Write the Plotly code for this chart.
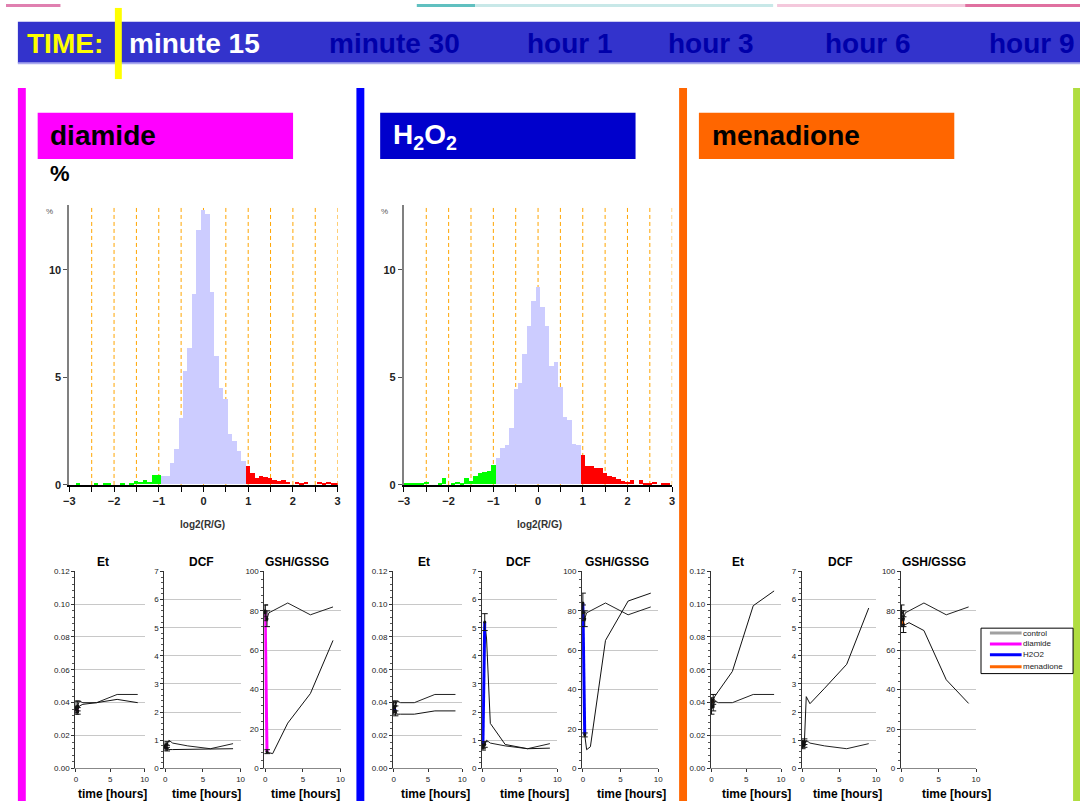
import plotly.graph_objects as go

W, H = 1085, 807

# ---------------- data ----------------
bin_centers = [-3.0, -2.9, -2.8, -2.7, -2.6, -2.5, -2.4, -2.3, -2.2, -2.1,
               -2.0, -1.9, -1.8, -1.7, -1.6, -1.5, -1.4, -1.3, -1.2, -1.1,
               -1.0, -0.9, -0.8, -0.7, -0.6, -0.5, -0.4, -0.3, -0.2, -0.1,
               0.0, 0.1, 0.2, 0.3, 0.4, 0.5, 0.6, 0.7, 0.8, 0.9,
               1.0, 1.1, 1.2, 1.3, 1.4, 1.5, 1.6, 1.7, 1.8, 1.9,
               2.0, 2.1, 2.2, 2.3, 2.4, 2.5, 2.6, 2.7, 2.8, 2.9, 3.0]
diamide_pct = [0, 0, 0.05, 0, 0, 0, 0.05, 0, 0.05, 0.05,
               0, 0, 0.05, 0, 0.05, 0.15, 0.1, 0.2, 0.12, 0.45,
               0.45, 0.4, 0.4, 0.98, 1.63, 3.08, 5.27, 6.34, 8.85, 11.83,
               12.75, 12.6, 8.96, 6.0, 4.5, 4.0, 2.34, 2.0, 1.56, 1.1,
               0.84, 0.52, 0.3, 0.41, 0.34, 0.3, 0.2, 0.18, 0.22, 0.12,
               0, 0.1, 0.06, 0.1, 0, 0, 0.1, 0.06, 0.1, 0.06, 0.04]
h2o2_pct = [0.03, 0.03, 0.06, 0.06, 0.06, 0.1, 0, 0, 0.06, 0.3,
            0, 0.06, 0.1, 0.06, 0.3, 0.17, 0.38, 0.52, 0.56, 0.63,
            0.89, 1.22, 1.71, 1.82, 2.61, 4.46, 4.73, 6.06, 7.39, 8.53,
            9.19, 8.27, 7.39, 5.5, 5.71, 4.53, 3.13, 3.0, 1.89, 1.83,
            1.39, 0.85, 0.85, 0.76, 0.76, 0.53, 0.4, 0.34, 0.27, 0.15,
            0.1, 0.2, 0, 0.2, 0.06, 0.06, 0.1, 0, 0.06, 0.06, 0]
threshold_lines = [-2.5, -2.0, -1.5, -1.0, -0.5, 0.0, 0.5, 1.0, 1.5, 2.0, 2.5, 3.0]

time_labels = ["minute 15", "minute 30", "hour 1", "hour 3", "hour 6", "hour 9"]

hours = [0, 0.25, 0.5, 1, 3, 6, 9]
et_control = [0.037, 0.038, 0.041, 0.040, 0.040, 0.045, 0.045]
dcf_control = [0.8, 0.85, 1.0, 0.9, 0.8, 0.7, 0.88]
gsh_control = [79, 76, 79, 80, 84, 78, 82]

et_diamide = [0.036, 0.035, 0.038, 0.039, 0.040, 0.042, 0.040]
dcf_diamide = [0.75, 0.72, 0.67, 0.67, 0.68, 0.70, 0.70]
gsh_diamide = [80, 8.5, 8, 7.5, 23, 38, 65]

et_h2o2 = [0.037, 0.035, 0.033, 0.033, 0.033, 0.035, 0.035]
dcf_h2o2 = [0.75, 5.2, 4.6, 1.6, 0.85, 0.70, 0.72]
gsh_h2o2 = [84, 17, 9.5, 11, 65, 85, 89]

et_menadione = [0.040, 0.042, 0.044, 0.047, 0.059, 0.099, 0.108]
dcf_menadione = [0.9, 0.95, 2.55, 2.3, 2.85, 3.7, 5.7]
gsh_menadione = [76, 73, 73, 74, 70, 45, 33]

# error bars at the first two time points (up to "minute 15")
et_err_control = [0.004, 0.003]
dcf_err_control = [0.1, 0.1]
gsh_err_control = [4, 4]
et_err_diamide = [0.002, 0.002]
dcf_err_diamide = [0.1, 0.1]
gsh_err_diamide = [3, 1]
et_err_h2o2 = [0.003, 0.003]
dcf_err_h2o2 = [0.1, 0.3]
gsh_err_h2o2 = [5, 1]
et_err_menadione = [0.003, 0.003]
dcf_err_menadione = [0.1, 0.1]
gsh_err_menadione = [4, 4]

legend_names = ["control", "diamide", "H2O2", "menadione"]

# ---------------- styling ----------------
FONT = "Liberation Sans, Arial, Helvetica, sans-serif"
C_DIAMIDE = "#FF00FF"
C_H2O2 = "#0000FF"
C_MEN = "#FF6600"
C_CONTROL = "#A0A0A0"


def fx(px):
    return px / W


def fy(py):
    return 1 - py / H


fig = go.Figure()
layout_axes = {}


def make_axes(idx, xpx, ypx, xcfg, ycfg):
    xn = "xaxis" if idx == 1 else f"xaxis{idx}"
    yn = "yaxis" if idx == 1 else f"yaxis{idx}"
    xr = "x" if idx == 1 else f"x{idx}"
    yr = "y" if idx == 1 else f"y{idx}"
    layout_axes[xn] = dict(domain=[fx(xpx[0]), fx(xpx[1])], anchor=yr, **xcfg)
    layout_axes[yn] = dict(domain=[fy(ypx[1]), fy(ypx[0])], anchor=xr, **ycfg)
    return xr, yr


shapes = []
annotations = []


def rect(x0, y0, x1, y1, color, line=None, layer="above"):
    shapes.append(dict(type="rect", xref="paper", yref="paper",
                       x0=fx(x0), x1=fx(x1), y0=fy(y1), y1=fy(y0),
                       fillcolor=color, line=line or dict(width=0), layer=layer))


def text(x, y, s, size, color="black", xanchor="left", yanchor="middle", bold=True):
    annotations.append(dict(xref="paper", yref="paper", x=fx(x), y=fy(y),
                            text=f"<b>{s}</b>" if bold else s, showarrow=False,
                            xanchor=xanchor, yanchor=yanchor,
                            font=dict(family=FONT, size=size, color=color)))


# ---------------- histograms ----------------
def bar_colors(xs):
    out = []
    for v in xs:
        if v <= -0.999:
            out.append("#00FF00")
        elif v >= 0.999:
            out.append("#FF0000")
        else:
            out.append("#CCCCFF")
    return out


hist_x_common = dict(range=[-3, 3], dtick=1, tick0=0,
                     ticks="outside", ticklen=5, tickcolor="black", tickwidth=1,
                     minor=dict(dtick=0.5, ticks="outside", ticklen=5, tickcolor="black", showgrid=False),
                     showline=True, linecolor="black", linewidth=1.5,
                     showgrid=False, zeroline=False,
                     tickfont=dict(family=FONT, size=11, color="#222", weight="bold"))
hist_y_common = dict(range=[0, 13], tickvals=[0, 5, 10],
                     ticks="outside", ticklen=4, tickcolor="#555",
                     showline=True, linecolor="#808080", linewidth=2,
                     showgrid=False, zeroline=False,
                     tickfont=dict(family=FONT, size=11, color="#222", weight="bold"))

for idx, vals, xpx, label_x in [(1, diamide_pct, (64, 335), 199), (2, h2o2_pct, (402, 673), 539)]:
    xr, yr = make_axes(idx, xpx, (204, 487), hist_x_common, hist_y_common)
    fig.add_trace(go.Bar(x=bin_centers, y=vals, width=0.1,
                         marker=dict(color=bar_colors(bin_centers), line=dict(width=0)),
                         xaxis=xr, yaxis=yr, showlegend=False, hoverinfo="skip"))
    for v in threshold_lines:
        shapes.append(dict(type="line", xref=xr, yref=yr, x0=v, x1=v, y0=0, y1=13,
                           line=dict(color="#FFA500", width=1, dash="4px,3px"), layer="below"))
    text(label_x, 527, "log2(R/G)", 10, "#333", xanchor="center")
    text(xpx[0] - 20, 210, "%", 8, "#555", xanchor="center", bold=False)

# ---------------- small time charts ----------------
metric_cfg = [
    dict(title="Et", range=[0, 0.1202], dtick=0.02, fmt=".2f", minor=0.004),
    dict(title="DCF", range=[0, 7.02], dtick=1, fmt="d", minor=0.2),
    dict(title="GSH/GSSG", range=[0, 100.3], dtick=20, fmt="d", minor=4),
]
controls = [et_control, dcf_control, gsh_control]
control_errs = [et_err_control, dcf_err_control, gsh_err_control]

groups = [
    (C_DIAMIDE, [et_diamide, dcf_diamide, gsh_diamide],
     [et_err_diamide, dcf_err_diamide, gsh_err_diamide],
     [(70, 140), (160, 237), (261, 338)], [98, 198, 294], [108, 203, 303]),
    (C_H2O2, [et_h2o2, dcf_h2o2, gsh_h2o2],
     [et_err_h2o2, dcf_err_h2o2, gsh_err_h2o2],
     [(391, 461), (481, 557), (582, 659)], [422, 518, 617], [434, 534, 632]),
    (C_MEN, [et_menadione, dcf_menadione, gsh_menadione],
     [et_err_menadione, dcf_err_menadione, gsh_err_menadione],
     [(712, 783), (804, 879), (904, 980)], [740, 843, 938], [758, 850, 960]),
]

idx = 3
for color, series, errs, xpxs, title_xs, tlab_xs in groups:
    for m in range(3):
        cfg = metric_cfg[m]
        xcfg = dict(range=[-0.1, 10], tickvals=[0, 5, 10], ticks="outside", ticklen=3,
                    tickcolor="#333", showline=True, linecolor="#888", linewidth=1,
                    showgrid=False, zeroline=False,
                    tickfont=dict(family=FONT, size=8, color="#222"))
        ycfg = dict(range=cfg["range"], dtick=cfg["dtick"], tick0=0, tickformat=cfg["fmt"],
                    ticks="outside", ticklen=3, tickcolor="#333",
                    showline=True, linecolor="#333", linewidth=1,
                    showgrid=True, gridcolor="#C8C8C8", gridwidth=1, zeroline=False,
                    minor=dict(dtick=cfg["minor"], ticks="outside", ticklen=2,
                               tickcolor="#555", showgrid=False),
                    tickfont=dict(family=FONT, size=8, color="#222"))
        xr, yr = make_axes(idx, xpxs[m], (574, 774), xcfg, ycfg)
        ctrl = controls[m]
        trt = series[m]
        fig.add_trace(go.Scatter(x=hours, y=ctrl, mode="lines", line=dict(color="#222", width=1),
                                 xaxis=xr, yaxis=yr, showlegend=False, hoverinfo="skip"))
        fig.add_trace(go.Scatter(x=hours, y=trt, mode="lines", line=dict(color="#111", width=1),
                                 xaxis=xr, yaxis=yr, showlegend=False, hoverinfo="skip"))
        fig.add_trace(go.Scatter(x=hours[:2], y=trt[:2], mode="lines", line=dict(color=color, width=3),
                                 xaxis=xr, yaxis=yr, showlegend=False, hoverinfo="skip"))
        for yy, ee in [(ctrl[:2], control_errs[m]), (trt[:2], errs[m])]:
            fig.add_trace(go.Scatter(x=hours[:2], y=yy, mode="markers",
                                     marker=dict(size=3, color="#111"),
                                     error_y=dict(type="data", array=ee, color="#111",
                                                  thickness=1, width=3),
                                     xaxis=xr, yaxis=yr, showlegend=False, hoverinfo="skip",
                                     cliponaxis=False))
        text(title_xs[m], 565, cfg["title"], 12, "black", xanchor="center")
        text(tlab_xs[m], 800, "time [hours]", 12, "black", xanchor="center")
        idx += 1

# ---------------- decorations ----------------
# faint top strip
rect(0, 0, 55, 3, "#E080B0")
rect(415, 0, 474, 3, "#60C0C0")
rect(474, 0, 775, 3, "#C8E8E8")
rect(779, 0, 969, 3, "#F4C8DC")
rect(969, 0, 1085, 3, "#E070A0")

# time banner
rect(12, 18, 1085, 60, "#3333CC")
rect(12, 59, 1085, 61, "#AAAAEE")
rect(110, 4, 117, 76, "#FFFF00")
text(19, 40, "TIME:", 28, "#FFFF00")
banner_x = [122, 324, 524, 667, 825, 991]
for i, lab in enumerate(time_labels):
    text(banner_x[i], 40, lab, 28, "#FFFFFF" if i == 0 else "#0000AA")

# column stripes
rect(12, 85, 20, 807, C_DIAMIDE)
rect(354, 85, 362, 807, C_H2O2)
rect(680, 85, 688, 807, C_MEN)
rect(1078, 85, 1085, 807, "#B0DD40")

# headers
rect(32, 110, 290, 157, C_DIAMIDE)
text(42, 133, "diamide", 28, "black")
rect(378, 110, 636, 157, "#0000CC")
text(389, 134, "H<sub>2</sub>O<sub>2</sub>", 28, "white")
rect(700, 110, 958, 157, C_MEN)
text(711, 133, "menadione", 28, "black")
text(42, 172, "%", 22, "black")

# legend box
rect(985, 632, 1078, 678, "white", line=dict(color="black", width=1))
legend_colors = [C_CONTROL, C_DIAMIDE, C_H2O2, C_MEN]
legend_y = [637, 648, 659, 671]
for name, col, ly in zip(legend_names, legend_colors, legend_y):
    shapes.append(dict(type="line", xref="paper", yref="paper", x0=fx(994), x1=fx(1026),
                       y0=fy(ly), y1=fy(ly), line=dict(color=col, width=3)))
    text(1025, ly, name, 8, "#222", bold=False)

fig.update_layout(
    autosize=True,
    margin=dict(l=0, r=0, t=0, b=0),
    paper_bgcolor="white", plot_bgcolor="white",
    showlegend=False, bargap=0,
    shapes=shapes, annotations=annotations,
    font=dict(family=FONT),
    **layout_axes,
)

post = (
    "var gd=document.getElementById('{plot_id}');"
    "document.documentElement.style.height='100%';"
    "document.documentElement.style.overflow='hidden';"
    "document.body.style.margin='0';document.body.style.padding='0';"
    "document.body.style.height='100%';document.body.style.overflow='hidden';"
    "gd.parentElement.style.height='100%';"
    "gd.style.width='100vw';gd.style.height='100vh';"
    "Plotly.Plots.resize(gd);"
)

fig.write_html("out.html", default_width="100vw", default_height="100vh",
               config={"displayModeBar": False, "responsive": True},
               post_script=post)
